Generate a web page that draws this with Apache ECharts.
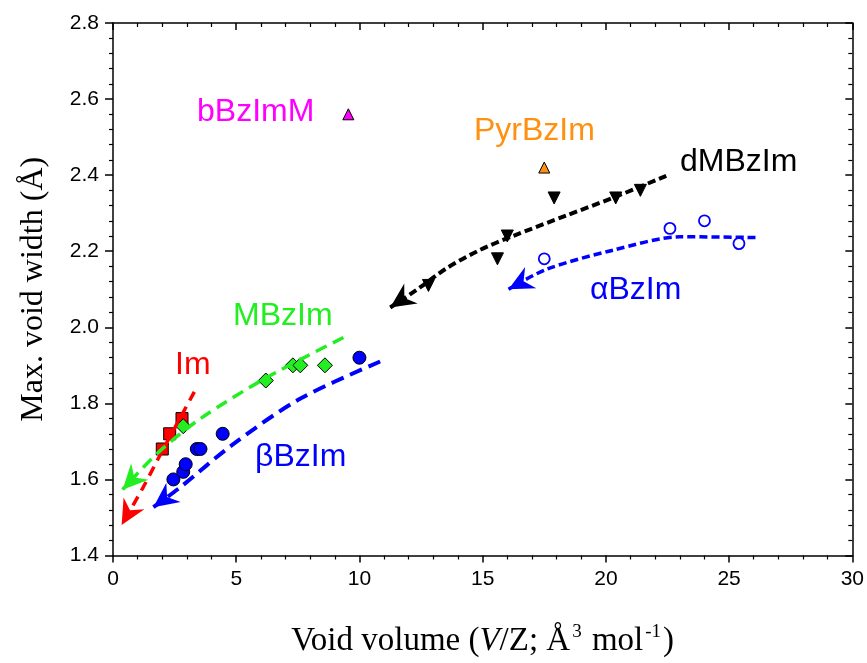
<!DOCTYPE html>
<html><head><meta charset="utf-8">
<script src="https://cdn.jsdelivr.net/npm/echarts@6/dist/echarts.min.js"></script>
<style>html,body{margin:0;padding:0;background:#fff}#c{width:867px;height:663px}</style>
</head><body><div id="c"></div>
<script>
// ---- tick labels ----
const xTicks = [0, 5, 10, 15, 20, 25, 30];
const yTicks = [1.4, 1.6, 1.8, 2.0, 2.2, 2.4, 2.6, 2.8];

// ---- data points [void volume, max void width] ----
const imPts     = [[2.0, 1.68], [2.3, 1.72], [2.8, 1.76]];
const mbzimPts  = [[2.85, 1.74], [6.2, 1.86], [7.3, 1.90], [7.6, 1.90], [8.6, 1.90]];
const betaPts   = [[2.45, 1.60], [2.85, 1.62], [2.95, 1.64], [3.4, 1.68], [3.55, 1.68], [4.45, 1.72], [10.0, 1.92]];
const dmbzimPts = [[12.8, 2.11], [15.6, 2.18], [16.0, 2.24], [17.9, 2.34], [20.4, 2.34], [21.4, 2.36]];
const alphaPts  = [[17.5, 2.18], [22.6, 2.26], [24.0, 2.28], [25.4, 2.22]];
const pyrPts    = [[17.5, 2.42]];
const bbzimmPts = [[9.55, 2.56]];

// ---- dashed trend curves (last point = arrow tip) ----
const imCurve     = [[3.30, 1.83], [2.04, 1.68], [1.23, 1.58], [0.35, 1.48]];
const mbzimCurve  = [[9.35, 1.973], [6.24, 1.868], [3.53, 1.759], [1.77, 1.667], [0.39, 1.573]];
const betaCurve   = [[10.84, 1.910], [7.59, 1.812], [4.88, 1.693], [2.72, 1.579], [1.64, 1.527]];
const dmbzimCurve = [[22.45, 2.398], [20.27, 2.340], [18.40, 2.294], [16.23, 2.240], [14.88, 2.203], [13.53, 2.155], [12.44, 2.104], [11.25, 2.052]];
const alphaCurve  = [[26.07, 2.236], [23.02, 2.238], [20.31, 2.203], [17.61, 2.153], [16.05, 2.100]];

const RED = '#ff0000', GREEN = '#22ee22', BLUE = '#0000ff', BLACK = '#000000', ORANGE = '#ff9010', MAGENTA = '#ff00ff';

function curveSeries(data, color, dash, width) {
  return {
    type: 'line', data: data, smooth: 0.3, showSymbol: false, symbol: 'none', z: 4,
    lineStyle: { color: color, width: width, type: dash }, silent: true
  };
}
function arrowSeries(curve, color) {
  const n = curve.length;
  const tip = curve[n - 1], prev = curve[n - 2];
  return {
    type: 'custom', z: 5, silent: true,
    data: [[tip[0], tip[1], prev[0], prev[1]]],
    renderItem: function (params, api) {
      const p = api.coord([api.value(0), api.value(1)]);
      const q = api.coord([api.value(2), api.value(3)]);
      let dx = p[0] - q[0], dy = p[1] - q[1];
      const len = Math.sqrt(dx * dx + dy * dy) || 1;
      dx /= len; dy /= len;
      const nx = -dy, ny = dx;
      const L = 25, W = 12, N = 17;
      return {
        type: 'polygon',
        shape: { points: [
          [p[0], p[1]],
          [p[0] - L * dx + W * nx, p[1] - L * dy + W * ny],
          [p[0] - N * dx, p[1] - N * dy],
          [p[0] - L * dx - W * nx, p[1] - L * dy - W * ny]
        ] },
        style: { fill: color }
      };
    }
  };
}
function scatter(data, symbol, size, fill, border, rotate, bw) {
  return {
    type: 'scatter', data: data, symbol: symbol, symbolSize: size, symbolRotate: rotate || 0, z: 3,
    itemStyle: { color: fill, borderColor: border, borderWidth: bw == null ? 1 : bw, opacity: 1 }
  };
}

const axisLineStyle = { color: '#000', width: 1.5 };
const baseX = {
  type: 'value', min: xTicks[0], max: xTicks[xTicks.length - 1], interval: xTicks[1] - xTicks[0],
  splitLine: { show: false }, axisLine: { show: true, onZero: false, lineStyle: axisLineStyle },
  minorTick: { show: true, splitNumber: 5, length: 4, lineStyle: { color: '#000', width: 1.2 } }
};
const baseY = {
  type: 'value', min: yTicks[0], max: yTicks[yTicks.length - 1], interval: 0.2,
  splitLine: { show: false }, axisLine: { show: true, onZero: false, lineStyle: axisLineStyle },
  minorTick: { show: true, splitNumber: 5, length: 4, lineStyle: { color: '#000', width: 1.2 } }
};

const labelFont = 'Liberation Sans, Arial, sans-serif';
const serif = 'Liberation Serif, Times New Roman, serif';

const option = {
  animation: false,
  backgroundColor: '#fff',
  grid: { left: 113, top: 23, width: 740, height: 533, show: false },
  xAxis: [
    Object.assign({}, baseX, {
      position: 'bottom',
      axisTick: { show: true, inside: false, length: 7, lineStyle: { color: '#000', width: 1.5 } },
      axisLabel: { fontSize: 21, fontFamily: labelFont, color: '#000', margin: 13 },
      name: '{a|Void volume (}{i|V}{a|/Z; Å}{s|3}{a| mol}{s|-1}{a|)}',
      nameLocation: 'middle', nameGap: 67,
      nameTextStyle: {
        color: '#000',
        rich: {
          a: { fontSize: 33, fontFamily: serif, color: '#000', lineHeight: 38 },
          i: { fontSize: 33, fontFamily: serif, fontStyle: 'italic', color: '#000', lineHeight: 38 },
          s: { fontSize: 19, fontFamily: serif, color: '#000', verticalAlign: 'top', lineHeight: 38, padding: [0, 2, 16, 2] }
        }
      }
    }),
    Object.assign({}, baseX, {
      position: 'top',
      axisTick: { show: true, inside: true, length: 7, lineStyle: { color: '#000', width: 1.5 } },
      axisLabel: { show: false }
    })
  ],
  yAxis: [
    Object.assign({}, baseY, {
      position: 'left',
      axisTick: { show: true, inside: false, length: 8, lineStyle: { color: '#000', width: 1.5 } },
      axisLabel: { fontSize: 21, fontFamily: labelFont, color: '#000', margin: 14,
        formatter: function (v) { return v.toFixed(1); } },
      name: 'Max. void width (Å)', nameLocation: 'middle', nameGap: 63, nameRotate: 90,
      nameTextStyle: { fontSize: 32, fontFamily: serif, color: '#000' }
    }),
    Object.assign({}, baseY, {
      position: 'right',
      axisTick: { show: true, inside: true, length: 7, lineStyle: { color: '#000', width: 1.5 } },
      axisLabel: { show: false }
    })
  ],
  series: [
    scatter(imPts, 'rect', 12, RED, '#000'),
    scatter(mbzimPts, 'diamond', 15, GREEN, '#000'),
    scatter(betaPts, 'circle', 13, BLUE, '#000'),
    scatter(dmbzimPts, 'triangle', 12, BLACK, BLACK, 180),
    scatter(alphaPts, 'circle', 11, '#ffffff', BLUE, 0, 1.8),
    scatter(pyrPts, 'triangle', 11, ORANGE, '#000'),
    scatter(bbzimmPts, 'triangle', 11, MAGENTA, '#000'),
    curveSeries(imCurve, RED, [10, 7], 3.5),
    curveSeries(mbzimCurve, GREEN, [12, 7], 3.5),
    curveSeries(betaCurve, BLUE, [13, 7], 4),
    curveSeries(dmbzimCurve, BLACK, [8, 4], 4),
    curveSeries(alphaCurve, BLUE, [8, 4], 3.5),
    arrowSeries(imCurve, RED),
    arrowSeries(mbzimCurve, GREEN),
    arrowSeries(betaCurve, BLUE),
    arrowSeries(dmbzimCurve, BLACK),
    arrowSeries(alphaCurve, BLUE)
  ],
  graphic: [
    { type: 'text', left: 197, top: 96, style: { text: 'bBzImM', fontSize: 32, fontFamily: labelFont, fill: MAGENTA } },
    { type: 'text', left: 474, top: 115, style: { text: 'PyrBzIm', fontSize: 32, fontFamily: labelFont, fill: ORANGE } },
    { type: 'text', left: 680, top: 146, style: { text: 'dMBzIm', fontSize: 32, fontFamily: labelFont, fill: BLACK } },
    { type: 'text', left: 590, top: 274, style: { text: 'αBzIm', fontSize: 32, fontFamily: labelFont, fill: BLUE } },
    { type: 'text', left: 233, top: 300, style: { text: 'MBzIm', fontSize: 32, fontFamily: labelFont, fill: GREEN } },
    { type: 'text', left: 175, top: 349, style: { text: 'Im', fontSize: 32, fontFamily: labelFont, fill: RED } },
    { type: 'text', left: 255, top: 441, style: { text: 'βBzIm', fontSize: 32, fontFamily: labelFont, fill: BLUE } }
  ]
};

const chart = echarts.init(document.getElementById('c'), null, { renderer: 'canvas' });
chart.setOption(option);
</script>
</body></html>
